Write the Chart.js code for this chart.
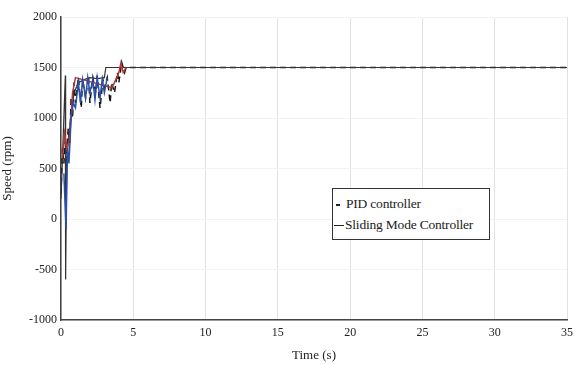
<!DOCTYPE html>
<html>
<head>
<meta charset="utf-8">
<script src="https://cdn.jsdelivr.net/npm/chart.js@4/dist/chart.umd.min.js"></script>
<style>
  body { margin: 0; background: #fff; }
  #wrap { position: relative; width: 579px; height: 365px; }
  #legend {
    position: absolute; left: 332px; top: 188px; width: 155px; overflow: hidden;
    border: 1px solid #333; background: #fff; color: #222; padding: 4px 0 4px 1px;
  }
  #legend div {
    height: 21px; line-height: 21px; white-space: nowrap; letter-spacing: -0.2px;
    font-family: "Times New Roman", Times, "Liberation Serif", "DejaVu Serif", serif; font-size: 13.5px;
  }
  #legend span { display: inline-block; vertical-align: middle; border-top: 2px solid #222; margin-right: 4px; }
</style>
</head>
<body>
<div id="wrap">
  <canvas id="speedChart" width="579" height="365"></canvas>
  <div id="legend">
    <div><span style="width:4px;margin-left:2px;margin-right:6px"></span>PID controller</div>
    <div><span style="width:10px;border-top-width:1px;margin-right:1px"></span>Sliding Mode Controller</div>
  </div>
</div>
<script>
// values
const pidTime  = [0, 0.1, 0.2, 0.3, 0.4, 0.5, 0.6, 0.7, 0.8, 0.9, 1.0, 1.2, 1.4, 1.5, 1.7, 1.9, 2.0, 2.2, 2.4, 2.5, 2.7, 2.9, 3.0, 3.2, 3.4, 3.5, 3.7, 3.9, 4.0, 4.2, 4.4, 4.5, 35];
const pidSpeed = [250, 700, 550, 800, 650, 900, 750, 1200, 1000, 1350, 1150, 1400, 1100, 1380, 1200, 1420, 1150, 1400, 1250, 1420, 1100, 1380, 1300, 1400, 1150, 1350, 1250, 1450, 1350, 1550, 1450, 1500, 1500];

const blueTime  = [0.2, 0.35, 0.45, 0.55, 0.7, 0.85, 1.0, 1.2, 1.35, 1.5, 1.7, 1.85, 2.0, 2.2, 2.35, 2.5, 2.7, 2.85, 3.0, 3.2];
const blueSpeed = [450, -100, 700, 550, 1000, 1150, 1100, 1350, 1150, 1380, 1200, 1400, 1250, 1380, 1180, 1400, 1200, 1380, 1250, 1400];

const redTime  = [0.1, 0.25, 0.4, 0.6, 0.8, 1.0, 3.5, 3.7, 3.85, 4.0, 4.15, 4.3, 4.5];
const redSpeed = [600, 850, 700, 800, 1250, 1400, 1300, 1350, 1400, 1450, 1550, 1450, 1500];

const smcTime  = [0, 0.3, 0.32, 0.4, 0.6, 0.9, 1.2, 1.6, 2.0, 2.5, 3.0, 3.1, 35];
const smcSpeed = [200, 1420, -600, 600, 900, 1250, 1350, 1380, 1400, 1390, 1400, 1500, 1500];

const xTicks = [0, 5, 10, 15, 20, 25, 30, 35];
const yTicks = [-1000, -500, 0, 500, 1000, 1500, 2000];

const pts = (t, v) => t.map((x, i) => ({ x: x, y: v[i] }));
const serif = '"Times New Roman", "Liberation Serif", serif';

new Chart(document.getElementById('speedChart'), {
  type: 'line',
  data: {
    datasets: [
      { label: 'blue', data: pts(blueTime, blueSpeed), borderColor: '#2b4fa8', borderWidth: 1.5 },
      { label: 'red', data: pts(redTime, redSpeed), borderColor: '#b03a3a', borderWidth: 1.5 },
      { label: 'Sliding Mode Controller', data: pts(smcTime, smcSpeed), borderColor: '#333', borderWidth: 1.2 },
      { label: 'PID controller', data: pts(pidTime, pidSpeed), borderColor: '#111', borderWidth: 1.5, borderDash: [6, 4] },
    ],
  },
  options: {
    responsive: false,
    animation: false,
    elements: { point: { radius: 0 }, line: { tension: 0 } },
    layout: { padding: { top: 17, right: 12, left: 0, bottom: 0 } },
    plugins: { legend: { display: false }, tooltip: { enabled: false } },
    scales: {
      x: {
        type: 'linear', min: 0, max: 35,
        afterBuildTicks: (s) => { s.ticks = xTicks.map((v) => ({ value: v })); },
        afterFit: (s) => { s.height = 45; },
        grid: { color: '#e2e2e2', drawTicks: false },
        border: { color: '#444', width: 1.5 },
        ticks: { color: '#222', font: { family: serif, size: 12 }, padding: 6, callback: (v) => String(v) },
        title: { display: true, text: 'Time (s)', color: '#222', font: { family: serif, size: 13 }, padding: 2 },
      },
      y: {
        min: -1000, max: 2000,
        afterBuildTicks: (s) => { s.ticks = yTicks.map((v) => ({ value: v })); },
        afterFit: (s) => { s.width = 61; },
        grid: { color: '#f3f3f3', drawTicks: false },
        border: { color: '#444', width: 1.5 },
        ticks: { color: '#222', font: { family: serif, size: 12 }, padding: 4, callback: (v) => String(v) },
        title: { display: true, text: 'Speed (rpm)', color: '#222', font: { family: serif, size: 13 }, padding: 0 },
      },
    },
  },
});
</script>
</body>
</html>
